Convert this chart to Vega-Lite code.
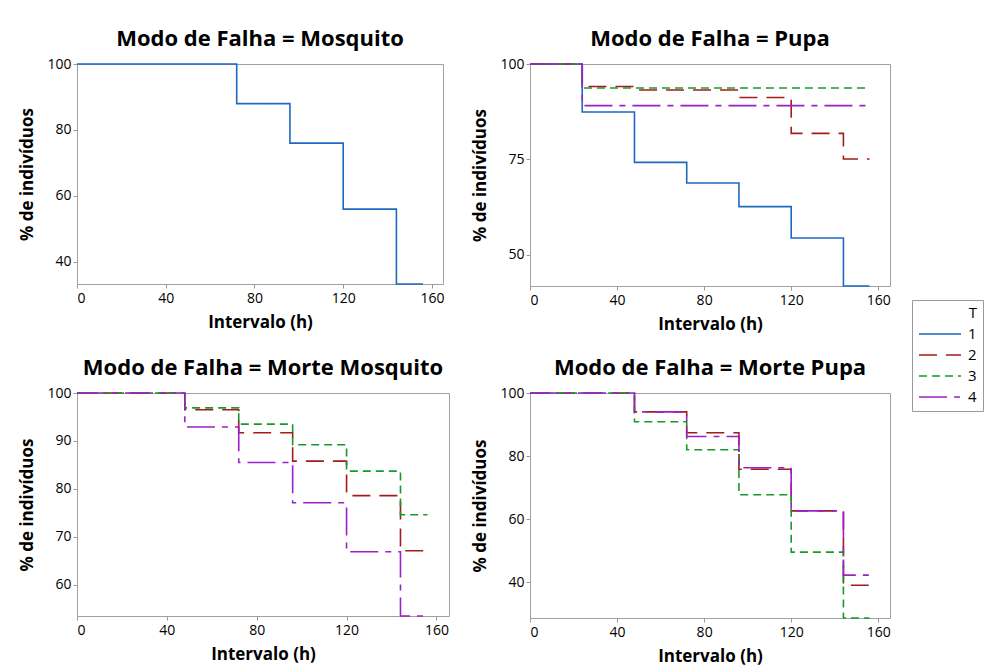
{
  "$schema": "https://vega.github.io/schema/vega-lite/v6.json",
  "background": "white",
  "padding": {"left": 18, "top": 27, "right": 0, "bottom": 0},
  "data": {"values": [
    {"m": "Mosquito", "T": "1", "t": 0, "p": 100},
    {"m": "Mosquito", "T": "1", "t": 72, "p": 88},
    {"m": "Mosquito", "T": "1", "t": 96, "p": 76},
    {"m": "Mosquito", "T": "1", "t": 120, "p": 56},
    {"m": "Mosquito", "T": "1", "t": 144, "p": 33.3},
    {"m": "Mosquito", "T": "1", "t": 156, "p": 33.3},

    {"m": "Pupa", "T": "1", "t": 0, "p": 100},
    {"m": "Pupa", "T": "1", "t": 24, "p": 87.4},
    {"m": "Pupa", "T": "1", "t": 48, "p": 74.2},
    {"m": "Pupa", "T": "1", "t": 72, "p": 68.8},
    {"m": "Pupa", "T": "1", "t": 96, "p": 62.6},
    {"m": "Pupa", "T": "1", "t": 120, "p": 54.4},
    {"m": "Pupa", "T": "1", "t": 144, "p": 41.8},
    {"m": "Pupa", "T": "1", "t": 156, "p": 41.8},
    {"m": "Pupa", "T": "2", "t": 0, "p": 100},
    {"m": "Pupa", "T": "2", "t": 24, "p": 94.1},
    {"m": "Pupa", "T": "2", "t": 48, "p": 93.2},
    {"m": "Pupa", "T": "2", "t": 96, "p": 91.2},
    {"m": "Pupa", "T": "2", "t": 120, "p": 81.8},
    {"m": "Pupa", "T": "2", "t": 144, "p": 75.1},
    {"m": "Pupa", "T": "2", "t": 156, "p": 75.1},
    {"m": "Pupa", "T": "3", "t": 0, "p": 100},
    {"m": "Pupa", "T": "3", "t": 24, "p": 93.7},
    {"m": "Pupa", "T": "3", "t": 156, "p": 93.7},
    {"m": "Pupa", "T": "4", "t": 0, "p": 100},
    {"m": "Pupa", "T": "4", "t": 24, "p": 89.1},
    {"m": "Pupa", "T": "4", "t": 156, "p": 89.1},

    {"m": "Morte Mosquito", "T": "2", "t": 0, "p": 100},
    {"m": "Morte Mosquito", "T": "2", "t": 48, "p": 96.5},
    {"m": "Morte Mosquito", "T": "2", "t": 72, "p": 91.7},
    {"m": "Morte Mosquito", "T": "2", "t": 96, "p": 85.8},
    {"m": "Morte Mosquito", "T": "2", "t": 120, "p": 78.6},
    {"m": "Morte Mosquito", "T": "2", "t": 144, "p": 67.1},
    {"m": "Morte Mosquito", "T": "2", "t": 156, "p": 67.1},
    {"m": "Morte Mosquito", "T": "3", "t": 0, "p": 100},
    {"m": "Morte Mosquito", "T": "3", "t": 48, "p": 96.9},
    {"m": "Morte Mosquito", "T": "3", "t": 72, "p": 93.5},
    {"m": "Morte Mosquito", "T": "3", "t": 96, "p": 89.2},
    {"m": "Morte Mosquito", "T": "3", "t": 120, "p": 83.7},
    {"m": "Morte Mosquito", "T": "3", "t": 144, "p": 74.6},
    {"m": "Morte Mosquito", "T": "3", "t": 156, "p": 74.6},
    {"m": "Morte Mosquito", "T": "4", "t": 0, "p": 100},
    {"m": "Morte Mosquito", "T": "4", "t": 48, "p": 92.9},
    {"m": "Morte Mosquito", "T": "4", "t": 72, "p": 85.5},
    {"m": "Morte Mosquito", "T": "4", "t": 96, "p": 77.1},
    {"m": "Morte Mosquito", "T": "4", "t": 120, "p": 66.9},
    {"m": "Morte Mosquito", "T": "4", "t": 144, "p": 53.5},
    {"m": "Morte Mosquito", "T": "4", "t": 156, "p": 53.5},

    {"m": "Morte Pupa", "T": "2", "t": 0, "p": 100},
    {"m": "Morte Pupa", "T": "2", "t": 48, "p": 94.0},
    {"m": "Morte Pupa", "T": "2", "t": 72, "p": 87.4},
    {"m": "Morte Pupa", "T": "2", "t": 96, "p": 75.8},
    {"m": "Morte Pupa", "T": "2", "t": 120, "p": 62.6},
    {"m": "Morte Pupa", "T": "2", "t": 144, "p": 39.0},
    {"m": "Morte Pupa", "T": "2", "t": 156, "p": 39.0},
    {"m": "Morte Pupa", "T": "3", "t": 0, "p": 100},
    {"m": "Morte Pupa", "T": "3", "t": 48, "p": 90.9},
    {"m": "Morte Pupa", "T": "3", "t": 72, "p": 82.0},
    {"m": "Morte Pupa", "T": "3", "t": 96, "p": 67.7},
    {"m": "Morte Pupa", "T": "3", "t": 120, "p": 49.5},
    {"m": "Morte Pupa", "T": "3", "t": 144, "p": 28.6},
    {"m": "Morte Pupa", "T": "3", "t": 156, "p": 28.6},
    {"m": "Morte Pupa", "T": "4", "t": 0, "p": 100},
    {"m": "Morte Pupa", "T": "4", "t": 48, "p": 94.0},
    {"m": "Morte Pupa", "T": "4", "t": 72, "p": 86.2},
    {"m": "Morte Pupa", "T": "4", "t": 96, "p": 76.3},
    {"m": "Morte Pupa", "T": "4", "t": 120, "p": 62.6},
    {"m": "Morte Pupa", "T": "4", "t": 144, "p": 42.2},
    {"m": "Morte Pupa", "T": "4", "t": 156, "p": 42.2}
  ]},
  "columns": 2,
  "spacing": {"column": 21, "row": 23},
  "concat": [
    {
      "title": {"text": "Modo de Falha = Mosquito"},
      "width": 366, "height": 220,
      "transform": [{"filter": "datum.m == 'Mosquito'"}],
      "mark": {"type": "line", "interpolate": "step-after", "strokeWidth": 1.6},
      "encoding": {
        "x": {"field": "t", "type": "quantitative", "title": "Intervalo (h)",
              "scale": {"domain": [0, 165], "nice": false, "zero": false},
              "axis": {"values": [0, 40, 80, 120, 160]}},
        "y": {"field": "p", "type": "quantitative", "title": "% de indivíduos",
              "scale": {"domain": [33.3, 100], "nice": false, "zero": false},
              "axis": {"values": [40, 60, 80, 100]}},
        "color": {"field": "T", "type": "nominal", "title": "T", "scale": {"domain": ["1", "2", "3", "4"], "range": ["#1f68c0", "#a31c1c", "#179a2a", "#9b20c8"]}},
        "strokeDash": {"field": "T", "type": "nominal", "title": "T", "scale": {"domain": ["1", "2", "3", "4"], "range": [[1, 0], [18, 9], [8, 5], [28, 7, 6, 7]]}}
      }
    },
    {
      "title": {"text": "Modo de Falha = Pupa"},
      "width": 360, "height": 222,
      "transform": [{"filter": "datum.m == 'Pupa'"}],
      "mark": {"type": "line", "interpolate": "step-after", "strokeWidth": 1.6},
      "encoding": {
        "x": {"field": "t", "type": "quantitative", "title": "Intervalo (h)",
              "scale": {"domain": [0, 165.4], "nice": false, "zero": false},
              "axis": {"values": [0, 40, 80, 120, 160]}},
        "y": {"field": "p", "type": "quantitative", "title": "% de indivíduos",
              "scale": {"domain": [41.8, 100], "nice": false, "zero": false},
              "axis": {"values": [50, 75, 100]}},
        "color": {"field": "T", "type": "nominal", "title": "T"},
        "strokeDash": {"field": "T", "type": "nominal", "title": "T"}
      }
    },
    {
      "title": {"text": "Modo de Falha = Morte Mosquito"},
      "width": 372, "height": 223,
      "transform": [{"filter": "datum.m == 'Morte Mosquito'"}],
      "mark": {"type": "line", "interpolate": "step-after", "strokeWidth": 1.6},
      "encoding": {
        "x": {"field": "t", "type": "quantitative", "title": "Intervalo (h)",
              "scale": {"domain": [0, 165.6], "nice": false, "zero": false},
              "axis": {"values": [0, 40, 80, 120, 160]}},
        "y": {"field": "p", "type": "quantitative", "title": "% de indivíduos",
              "scale": {"domain": [53.5, 100], "nice": false, "zero": false},
              "axis": {"values": [60, 70, 80, 90, 100]}},
        "color": {"field": "T", "type": "nominal", "title": "T"},
        "strokeDash": {"field": "T", "type": "nominal", "title": "T"}
      }
    },
    {
      "title": {"text": "Modo de Falha = Morte Pupa"},
      "width": 360, "height": 225,
      "transform": [{"filter": "datum.m == 'Morte Pupa'"}],
      "mark": {"type": "line", "interpolate": "step-after", "strokeWidth": 1.6},
      "encoding": {
        "x": {"field": "t", "type": "quantitative", "title": "Intervalo (h)",
              "scale": {"domain": [0, 165.4], "nice": false, "zero": false},
              "axis": {"values": [0, 40, 80, 120, 160]}},
        "y": {"field": "p", "type": "quantitative", "title": "% de indivíduos",
              "scale": {"domain": [28.6, 100], "nice": false, "zero": false},
              "axis": {"values": [40, 60, 80, 100]}},
        "color": {"field": "T", "type": "nominal", "title": "T"},
        "strokeDash": {"field": "T", "type": "nominal", "title": "T"}
      }
    }
  ],
  "resolve": {"scale": {"color": "shared", "strokeDash": "shared"}},
  "config": {
    "font": "Open Sans",
    "view": {"stroke": "#a0a0a0", "strokeWidth": 1},
    "title": {"fontSize": 22, "fontWeight": "bold", "color": "#000", "anchor": "middle", "frame": "group", "offset": 6},
    "axis": {
      "domain": false, "grid": false, "ticks": true, "tickColor": "#999999", "tickSize": 4,
      "labelFontSize": 14, "labelColor": "#000", "labelPadding": 2,
      "titleFontSize": 17, "titleFontWeight": "bold", "titleColor": "#000"
    },
    "axisX": {"titlePadding": 9, "labelPadding": 3},
    "axisY": {"titlePadding": 10},
    "legend": {
      "orient": "none", "legendX": 835, "legendY": 236,
      "strokeColor": "#9a9a9a", "fillColor": "white", "padding": 6,
      "titleFontSize": 15, "titleFontWeight": "normal", "titleColor": "#000", "titleAnchor": "end", "titlePadding": 5,
      "labelFontSize": 15, "labelColor": "#000", "labelOffset": 34,
      "symbolType": "M-1,0H5", "symbolSize": 196, "symbolStrokeWidth": 1.6, "symbolFillColor": "transparent",
      "rowPadding": 5
    }
  }
}
